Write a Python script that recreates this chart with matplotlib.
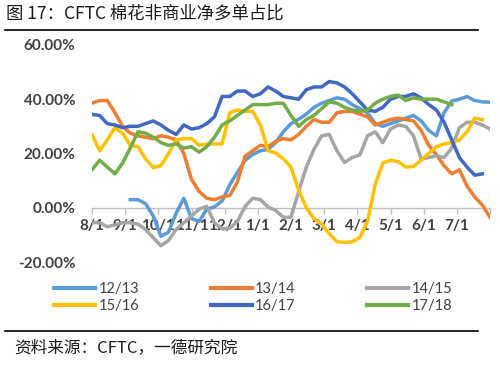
import matplotlib
matplotlib.use('Agg')

import matplotlib.pyplot as plt
import matplotlib.ticker as ticker
from matplotlib.lines import Line2D
import numpy as np

# -----------------------------
# STYLE
# -----------------------------
plt.rcParams['font.family'] = ['Noto Sans CJK SC', 'DejaVu Sans']

# -----------------------------
# DATA (weekly, % net long, starting 8/1)
# -----------------------------
month_labels = ['8/1', '9/1', '10/1', '11/1', '12/1', '1/1', '2/1',
                '3/1', '4/1', '5/1', '6/1', '7/1']

s1213 = [None, None, None, None, None,
         3, 3, 1.5, -3, -10.5, -9, -2, 3.5, -4, -5, -0.5, 0.3, 2.5, 8.5, 13,
         17.5, 19.6, 21, 21.5, 24, 28, 31, 32.6, 34.5, 37, 38.5, 39.5, 40.5,
         40, 38, 36.5, 35, 31, 30, 31, 32, 33, 34, 32, 28.5, 26.5, 35, 39.3,
         40, 41, 39.5, 39, 38.9]
s1314 = [38.5, 39.5, 39.5, 35, 30, 27.5, 26.5, 26, 25.5, 26.5, 26, 25, 20,
         10.5, 6, 3.5, 3, 4, 4.5, 9.5, 19, 21, 23, 22.5, 24.5, 25.5, 25, 27,
         30, 32.5, 31.5, 31.5, 35, 35.5, 35.5, 34.5, 33.5, 30.5, 31.5, 32.5,
         33, 32.5, 32, 28.5, 23, 19.5, 15.5, 12.5, 14, 8, 4, 1, -3.5]
s1415 = [-5.5, -5.5, -7, -6.3, -5.5, -5.5, -6, -8, -11, -14, -12, -8, -5.5,
         -3, -0.5, 0.5, -5.5, -7.8, -7.5, -5, 0.5, 3.5, 3, 0.3, -1, -3.5,
         -3.5, 6, 15, 21.5, 26.5, 27, 21, 16.7, 18.5, 19.5, 26.5, 28, 24,
         29, 30.5, 30, 26.5, 18, 18.5, 19.2, 18.5, 22, 29.5, 31.5, 31.5,
         30.5, 29]
s1516 = [27, 21, 25, 29.5, 27.5, 23, 22.5, 18, 14.8, 15.5, 20, 25, 25.5,
         25.5, 23, 23.5, 23.5, 23.5, 35, 36, 35.5, 35.5, 30.5, 21, 20.2, 18,
         15, 6.5, 0, -4, -6, -9.5, -12.5, -12.8, -12.5, -11, -5, 8.5, 16.5,
         17.5, 17, 15, 15.2, 17.5, 20, 22.5, 23.5, 24, 25, 28, 33, 32.5]
s1617 = [34.4, 34, 31, 30.5, 29.5, 30, 30, 31, 32, 30.5, 28.5, 27, 30.5, 29,
         29.5, 31, 33.5, 41, 41, 43, 43, 41, 42, 44.5, 43, 41, 40.5, 40,
         43.5, 44.5, 44.5, 46.5, 46, 44.5, 42, 39, 36, 35.5, 37, 40, 41, 41,
         42, 40.5, 38, 36, 31.5, 25, 18.5, 15, 12, 12.5]
s1718 = [14, 17.5, 15, 12.5, 16.5, 22, 28, 27.5, 26, 24, 23, 23.5, 22, 22.5,
         20.5, 22.5, 26, 30.5, 32, 34, 36, 38, 38, 38, 38.5, 38.5, 34, 30,
         32.5, 34, 36.5, 39, 38.5, 37, 36, 35.5, 36, 38.5, 40, 41, 41.5,
         39.5, 40.5, 40, 40, 40, 39, 38]

series_names = ['12/13', '13/14', '14/15', '15/16', '16/17', '17/18']
series_vals = [s1213, s1314, s1415, s1516, s1617, s1718]
series_colors = ['#5B9BD5', '#ED7D31', '#A5A5A5', '#FFC000', '#3F68BE', '#70AD47']

# -----------------------------
# FIGURE
# -----------------------------
fig = plt.figure(figsize=(5, 3.65), dpi=100)
ax = fig.add_axes([0.184, 0.282, 0.796, 0.595])

for name, vals, col in zip(series_names, series_vals, series_colors):
    y = np.array([np.nan if v is None else v for v in vals], dtype=float)
    x = np.arange(len(y))
    ax.plot(x, y, color=col, linewidth=2.5, label=name,
            solid_joinstyle='round', zorder=3)

ax.set_xlim(0, 52)
ax.set_ylim(-20, 60)

ax.yaxis.set_major_locator(ticker.MultipleLocator(20))
ax.yaxis.set_major_formatter(ticker.FuncFormatter(lambda v, p: f'{v:.2f}%'))

tick_pos = [i * 52 / 12 for i in range(13)]
ax.set_xticks(tick_pos)
ax.set_xticklabels(month_labels + [''])

for sp in ['top', 'right', 'left']:
    ax.spines[sp].set_visible(False)
ax.spines['bottom'].set_position(('data', 0))
ax.spines['bottom'].set_color('#BFBFBF')
ax.spines['bottom'].set_linewidth(1.0)
ax.spines['bottom'].set_zorder(0.5)

ax.tick_params(axis='y', length=0, pad=12, labelsize=11, labelcolor='#404040')
ax.tick_params(axis='x', direction='out', length=4, width=1.0, color='#BFBFBF',
               pad=4, labelsize=11, labelcolor='#404040')
for lab in ax.get_yticklabels() + ax.get_xticklabels():
    lab.set_fontfamily(['Lato', 'DejaVu Sans'])
    lab.set_fontweight('bold')

# legend (row-wise order)
order = [0, 3, 1, 4, 2, 5]
handles = [Line2D([0], [0], color=series_colors[i], linewidth=3) for i in order]
labels = [series_names[i] for i in order]
leg = fig.legend(handles, labels, ncol=3, loc='upper left',
                 bbox_to_anchor=(0.108, 0.228), frameon=False,
                 borderpad=0, borderaxespad=0,
                 handlelength=2.8, handletextpad=0.25, columnspacing=4.9,
                 labelspacing=0.25, fontsize=10.5)
for t in leg.get_texts():
    t.set_color('#404040')
    t.set_fontfamily(['Lato', 'DejaVu Sans'])

# title and source
fig.text(0.012, 0.962, '图 17：CFTC 棉花非商业净多单占比', fontsize=12.5,
         ha='left', va='center', color='#1a1a1a')
fig.add_artist(Line2D([0.01, 0.956], [0.918, 0.918], color='black', linewidth=1.2))
fig.add_artist(Line2D([0.01, 0.956], [0.093, 0.093], color='black', linewidth=1.2))
fig.text(0.028, 0.047, '资料来源：CFTC，一德研究院', fontsize=12,
         ha='left', va='center', color='#1a1a1a')

plt.savefig('out.png', dpi=100)
plt.close()
